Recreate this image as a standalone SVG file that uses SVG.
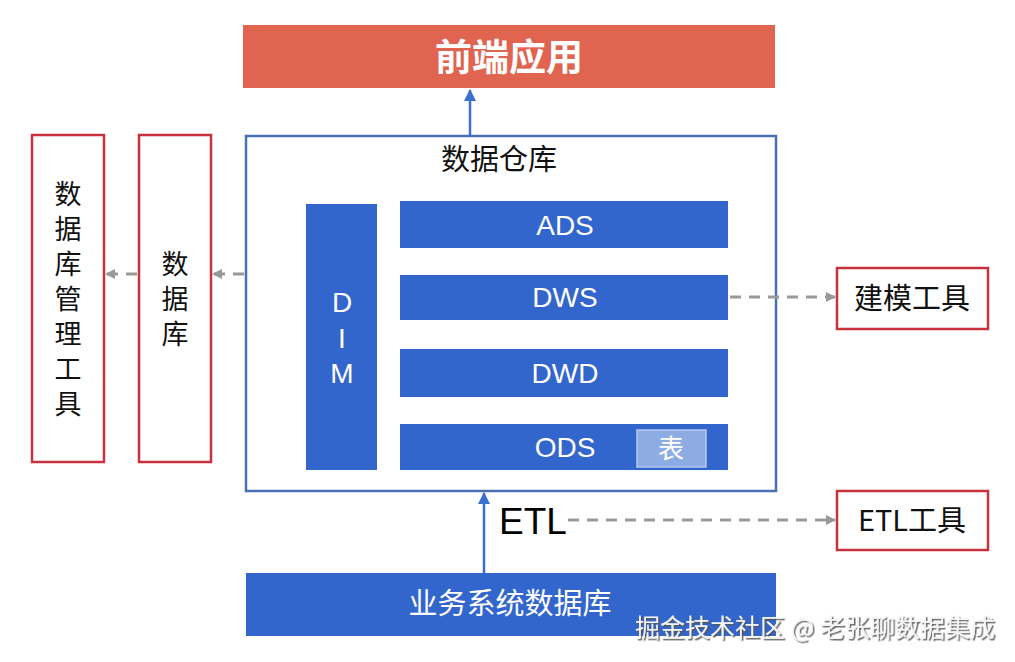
<svg xmlns="http://www.w3.org/2000/svg" width="1015" height="662" viewBox="0 0 1015 662">
<style>
.cjk{font-family:"Microsoft YaHei","Noto Sans CJK SC","Liberation Sans",sans-serif}
.lat{font-family:"Liberation Sans","Noto Sans CJK SC",sans-serif}
.layer{fill:#3366CC}
.red{fill:#fff;stroke:#C8323C;stroke-width:2.5}
.wt{fill:#fff;font-size:28px;text-anchor:middle}
.bt{fill:#111;text-anchor:middle}
.v{font-size:27px;writing-mode:vertical-rl;letter-spacing:8px}
.dash{stroke:#999;stroke-width:3;stroke-dasharray:11 8;fill:none}
.solid{stroke:#3A6FCE;stroke-width:2.5;fill:none}
</style>
<defs>
<marker id="ga" markerWidth="10" markerHeight="10" refX="9" refY="5" orient="auto" markerUnits="userSpaceOnUse"><path d="M0,0 L10,5 L0,10 Z" fill="#999"/></marker>
<marker id="ba" markerWidth="12" markerHeight="12" refX="11" refY="6" orient="auto" markerUnits="userSpaceOnUse"><path d="M0,0 L12,6 L0,12 Z" fill="#3A6FCE"/></marker>
<filter id="sh" x="-5%" y="-20%" width="110%" height="150%"><feDropShadow dx="1.5" dy="1.5" stdDeviation="0.6" flood-color="#555" flood-opacity="0.9"/></filter>
</defs>
<rect width="1015" height="662" fill="#fff"/>

<g id="frontend">
<rect x="243" y="25" width="532" height="63" fill="#E06450"/>
<text x="509" y="71" class="cjk wt" style="font-size:37px;font-weight:bold">前端应用</text>
</g>

<g id="warehouse">
<rect x="246" y="136" width="530" height="355" fill="none" stroke="#4A70B4" stroke-width="2.5"/>
<text x="499" y="170" class="cjk bt" style="font-size:29px">数据仓库</text>
</g>

<g id="dim">
<rect class="layer" x="306" y="204" width="71" height="266"/>
<text class="lat wt" x="342" y="312">D<tspan x="342" dy="36">I</tspan><tspan x="342" dy="35">M</tspan></text>
</g>
<g id="ads"><rect class="layer" x="400" y="201" width="328" height="47"/><text class="lat wt" x="565" y="235">ADS</text></g>
<g id="dws"><rect class="layer" x="400" y="275" width="328" height="45"/><text class="lat wt" x="565" y="307">DWS</text></g>
<g id="dwd"><rect class="layer" x="400" y="349" width="328" height="48"/><text class="lat wt" x="565" y="383">DWD</text></g>
<g id="ods"><rect class="layer" x="400" y="424" width="328" height="46"/><text class="lat wt" x="565" y="457">ODS</text></g>
<g id="table"><rect x="637" y="430" width="69" height="37" fill="#8EACE4" stroke="#B5CAF0" stroke-width="1.5"/><text class="cjk wt" style="font-size:26px" x="671" y="458">表</text></g>

<g id="dbtool">
<rect class="red" x="32" y="135" width="72" height="327"/>
<text class="cjk v" fill="#111" x="68" y="180">数据库管理工具</text>
</g>
<g id="db">
<rect class="red" x="139" y="135" width="72" height="327"/>
<text class="cjk v" fill="#111" x="175" y="250">数据库</text>
</g>

<g id="modeling">
<rect class="red" x="837" y="268" width="151" height="61"/>
<text class="cjk bt" style="font-size:29px" x="912" y="309">建模工具</text>
</g>
<g id="etltool">
<rect class="red" x="837" y="491" width="151" height="59"/>
<text class="cjk bt" style="font-size:29px" x="912" y="531">ETL工具</text>
</g>
<g id="etl">
<text class="lat" x="499" y="534" style="font-size:37px;fill:#000">ETL</text>
</g>

<g id="source">
<rect class="layer" x="246" y="573" width="530" height="63"/>
<text class="cjk wt" x="510" y="614" style="font-size:29px">业务系统数据库</text>
</g>

<g id="connectors">
<line class="solid" x1="470" y1="136" x2="470" y2="90" marker-end="url(#ba)"/>
<line class="solid" x1="484" y1="573" x2="484" y2="493" marker-end="url(#ba)"/>
<line class="dash" x1="244" y1="274" x2="213" y2="274" marker-end="url(#ga)"/>
<line class="dash" x1="137" y1="274" x2="106" y2="274" marker-end="url(#ga)"/>
<line class="dash" x1="730" y1="297" x2="835" y2="297" marker-end="url(#ga)"/>
<line class="dash" x1="568" y1="520" x2="835" y2="520" marker-end="url(#ga)"/>
</g>

<text x="815" y="637" class="cjk" text-anchor="middle" style="font-size:25px;fill:#f4f4f4" filter="url(#sh)">掘金技术社区 @ 老张聊数据集成</text>
</svg>
